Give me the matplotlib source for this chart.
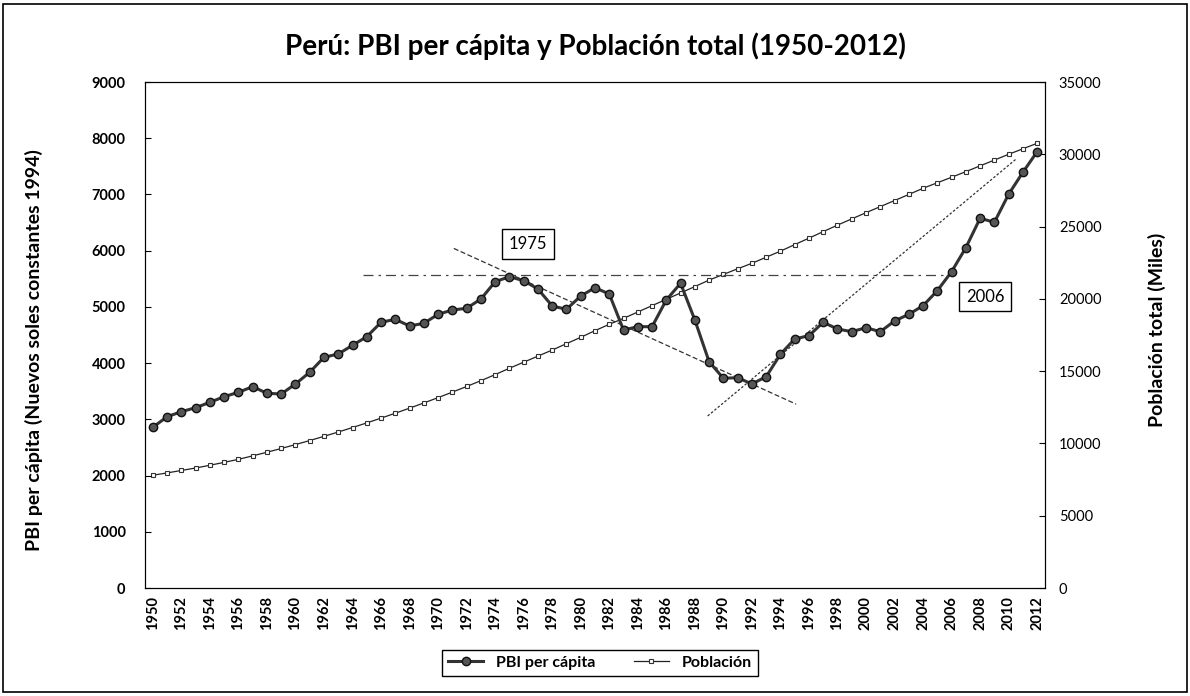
import matplotlib.pyplot as plt
from matplotlib.patches import Rectangle

# datos
years = list(range(1950, 2013))
pbi = [2858, 3047, 3136, 3207, 3303, 3403, 3481, 3581, 3463, 3451,
       3629, 3837, 4104, 4162, 4317, 4470, 4726, 4779, 4660, 4708,
       4868, 4945, 4975, 5140, 5448, 5537, 5466, 5318, 5016, 4957,
       5194, 5341, 5229, 4589, 4648, 4648, 5123, 5420, 4767, 4025,
       3730, 3741, 3629, 3758, 4157, 4429, 4488, 4726, 4607, 4559,
       4630, 4559, 4749, 4868, 5021, 5288, 5626, 6053, 6576, 6505,
       7003, 7394, 7761]
poblacion = [7800, 7960, 8130, 8300, 8490, 8690, 8900, 9140, 9390, 9650,
             9920, 10200, 10490, 10790, 11100, 11420, 11750, 12090, 12440, 12800,
             13170, 13550, 13940, 14340, 14760, 15200, 15620, 16040, 16460, 16900,
             17340, 17800, 18240, 18650, 19090, 19530, 19970, 20410, 20850, 21300,
             21690, 22080, 22460, 22880, 23300, 23750, 24200, 24650, 25100, 25530,
             25960, 26380, 26800, 27220, 27650, 28030, 28410, 28800, 29200, 29600,
             30000, 30380, 30760]

# lineas de tendencia dibujadas a mano en el original (anio, valor PBI)
nivel_x = [1964.7, 2005.8]
nivel_y = [5570, 5570]
baja_x = [1971.1, 1995.1]
baja_y = [6040, 3270]
sube_x = [1988.9, 2010.5]
sube_y = [3060, 7625]

left_ticks = list(range(0, 9001, 1000))
right_ticks = list(range(0, 35001, 5000))
x_ticks = list(range(1950, 2013, 2))

plt.rcParams['font.family'] = ['Lato', 'DejaVu Sans']

fig = plt.figure(figsize=(11.9, 6.96), dpi=100)
ax = fig.add_axes([145/1190, 1-588/696, 900/1190, 506/696])
ax2 = ax.twinx()
ax.set_zorder(ax2.get_zorder() + 1)
ax.patch.set_visible(False)

l1, = ax.plot(years, pbi, color='#333333', lw=2.2, marker='o', ms=6,
              mfc='#555555', mec='#111111', mew=1, label='PBI per cápita', zorder=3)
l2, = ax2.plot(years, poblacion, color='#222222', lw=0.9, marker='s', ms=3.5,
               mfc='white', mec='#333333', mew=0.8, label='Población')

ax.plot(nivel_x, nivel_y, color='#444444', lw=0.9, ls=(0, (8, 4, 2, 4)))
ax.plot(baja_x, baja_y, color='#333333', lw=0.9, ls=(0, (4, 2)))
ax.plot(sube_x, sube_y, color='#333333', lw=0.9, ls=(0, (2, 1.5)))

box = dict(boxstyle='square,pad=0.4', fc='white', ec='black', lw=1)
ax.text(1976.3, 6120, '1975', ha='center', va='center', fontsize=12, bbox=box, zorder=5)
ax.text(2008.35, 5180, '2006', ha='center', va='center', fontsize=12, bbox=box, zorder=5)

ax.set_xlim(1949.45, 2012.55)
ax.set_ylim(0, 9000)
ax2.set_ylim(0, 35000)
ax.set_xticks(x_ticks)
ax.set_xticklabels([str(y) for y in x_ticks], rotation=90, fontsize=10.5, fontweight='bold')
ax.set_yticks(left_ticks)
ax.set_yticklabels([str(v) for v in left_ticks], fontsize=10.5, fontweight='bold')
ax2.set_yticks(right_ticks)
ax2.set_yticklabels([str(v) for v in right_ticks], fontsize=10.5)
ax.tick_params(axis='y', direction='in', length=4, pad=14)
ax.tick_params(axis='x', length=0, pad=6)
ax2.tick_params(axis='y', direction='in', length=4, pad=10)

ax.set_ylabel('PBI per cápita (Nuevos soles constantes 1994)', fontsize=14, fontweight='bold')
ax.yaxis.set_label_coords(-0.113, 0.47)
ax2.set_ylabel('Población total (Miles)', fontsize=14, fontweight='bold')
ax2.yaxis.set_label_coords(1.114, 0.51)

fig.text(0.5, 1-46/696, 'Perú: PBI per cápita y Población total (1950-2012)',
         ha='center', va='center', fontsize=20, fontweight='bold')

leg = fig.legend([l1, l2], ['PBI per cápita', 'Población'], loc='center',
                 bbox_to_anchor=(600/1190, 1-663/696), ncol=2, fancybox=False,
                 edgecolor='black', framealpha=1, prop={'weight': 'bold', 'size': 11.5},
                 handlelength=2.2, columnspacing=2.4, borderpad=0.4, borderaxespad=0)
leg.get_frame().set_linewidth(1)

fig.add_artist(Rectangle((3/1190, 4/696), 1184/1190, 688/696, transform=fig.transFigure,
                         fill=False, ec='black', lw=1.2))

fig.savefig('out.png', dpi=100)
